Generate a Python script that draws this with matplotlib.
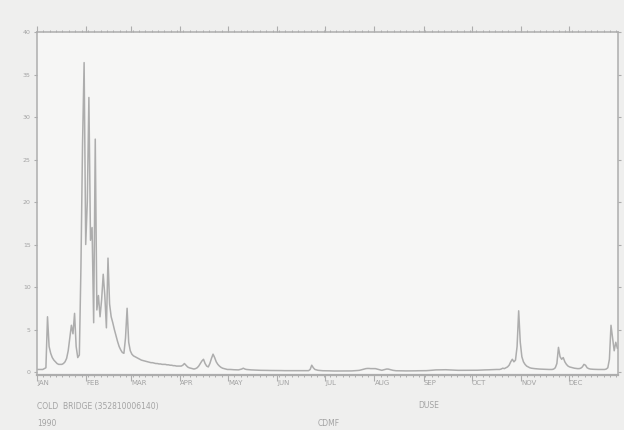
import matplotlib
matplotlib.use("Agg")
import matplotlib.pyplot as plt
import numpy as np

# daily flow, 1990, one list per month
jan = [0.3, 0.3, 0.3, 0.3, 0.4, 0.5, 6.5, 3.0, 2.2, 1.7, 1.4, 1.2, 1.0, 0.9, 0.9, 0.9,
       1.0, 1.2, 1.6, 2.5, 4.0, 5.5, 4.5, 6.9, 3.0, 1.7, 2.0, 12.3, 26.7, 36.4, 15.0]
feb = [20.0, 32.3, 15.5, 17.0, 5.8, 27.4, 7.3, 9.0, 6.5, 8.5, 11.5, 9.0, 5.2, 13.4,
       8.0, 6.5, 5.8, 5.0, 4.3, 3.6, 3.0, 2.6, 2.3, 2.2, 4.0, 7.5, 3.5, 2.5]
mar = [2.1, 1.9, 1.8, 1.7, 1.6, 1.5, 1.4, 1.35, 1.3, 1.25, 1.2, 1.15, 1.1, 1.1, 1.05,
       1.0, 1.0, 0.95, 0.95, 0.9, 0.9, 0.9, 0.85, 0.85, 0.8, 0.8, 0.75, 0.75, 0.7, 0.7, 0.7]
apr = [0.7, 0.8, 1.0, 0.8, 0.6, 0.5, 0.45, 0.4, 0.35, 0.4, 0.5, 0.7, 1.0, 1.3, 1.5,
       1.0, 0.7, 0.6, 1.0, 1.6, 2.1, 1.7, 1.2, 0.9, 0.7, 0.55, 0.45, 0.4, 0.35, 0.3]
may = [0.3, 0.3, 0.28, 0.27, 0.26, 0.25, 0.25, 0.3, 0.35, 0.45, 0.35, 0.3, 0.28, 0.26,
       0.25, 0.24, 0.23, 0.22, 0.22, 0.21, 0.2, 0.2, 0.2, 0.19, 0.19, 0.18, 0.18, 0.18,
       0.17, 0.17, 0.17]
jun = [0.17, 0.17, 0.17, 0.16, 0.16, 0.16, 0.16, 0.16, 0.15, 0.15, 0.15, 0.15, 0.15,
       0.15, 0.15, 0.15, 0.15, 0.15, 0.15, 0.16, 0.3, 0.8, 0.5, 0.3, 0.25, 0.2, 0.18,
       0.16, 0.15, 0.15]
jul = [0.15, 0.14, 0.14, 0.13, 0.13, 0.12, 0.12, 0.12, 0.12, 0.12, 0.12, 0.12, 0.12,
       0.12, 0.12, 0.13, 0.13, 0.14, 0.15, 0.16, 0.18, 0.2, 0.25, 0.3, 0.35, 0.4, 0.42,
       0.42, 0.4, 0.4, 0.4]
aug = [0.4, 0.35, 0.3, 0.25, 0.2, 0.25, 0.3, 0.35, 0.35, 0.3, 0.25, 0.2, 0.17, 0.15,
       0.15, 0.14, 0.14, 0.14, 0.13, 0.13, 0.13, 0.13, 0.13, 0.13, 0.14, 0.14, 0.15,
       0.15, 0.15, 0.15, 0.15]
sep = [0.15, 0.16, 0.17, 0.18, 0.2, 0.22, 0.24, 0.25, 0.25, 0.25, 0.25, 0.26, 0.27,
       0.27, 0.26, 0.25, 0.25, 0.24, 0.23, 0.22, 0.21, 0.2, 0.2, 0.2, 0.2, 0.2, 0.2,
       0.2, 0.2, 0.2]
oct_ = [0.2, 0.2, 0.2, 0.21, 0.22, 0.22, 0.23, 0.24, 0.25, 0.25, 0.26, 0.27, 0.28,
        0.28, 0.29, 0.3, 0.3, 0.3, 0.35, 0.45, 0.4, 0.5, 0.6, 0.8, 1.2, 1.5, 1.2, 1.4,
        3.0, 7.2, 3.5]
nov = [1.8, 1.2, 0.9, 0.7, 0.6, 0.5, 0.45, 0.42, 0.4, 0.38, 0.36, 0.35, 0.34, 0.33,
       0.32, 0.31, 0.3, 0.3, 0.3, 0.3, 0.35, 0.5, 1.0, 2.9, 1.8, 1.5, 1.7, 1.2, 0.9, 0.7]
dec = [0.6, 0.55, 0.5, 0.45, 0.42, 0.4, 0.4, 0.45, 0.6, 0.9, 0.8, 0.5, 0.4, 0.35,
       0.33, 0.32, 0.31, 0.3, 0.3, 0.3, 0.3, 0.3, 0.3, 0.35, 0.5, 1.5, 5.5, 4.0, 2.5,
       3.5, 2.8]

month_labels = ["JAN", "FEB", "MAR", "APR", "MAY", "JUN",
                "JUL", "AUG", "SEP", "OCT", "NOV", "DEC"]
y_ticks = [0, 5, 10, 15, 20, 25, 30, 35, 40]

months = [jan, feb, mar, apr, may, jun, jul, aug, sep, oct_, nov, dec]
flow = np.concatenate(months)
days = np.arange(len(flow))
month_starts = np.cumsum([0] + [len(m) for m in months[:-1]])

grey = "#adadad"
txt = "#a3a3a3"

fig = plt.figure(figsize=(6.24, 4.30), dpi=100, facecolor="#efefee")
ax = fig.add_axes([37 / 624, 1 - 375 / 430, 581 / 624, 343 / 430])
ax.set_facecolor("#f6f6f5")

ax.plot(days + 0.6, flow, color=grey, lw=1.1)

ax.set_xlim(0, 365)
ax.set_ylim(-0.35, 40)

for side in ax.spines.values():
    side.set_color(grey)
    side.set_linewidth(1.1)
ax.spines["bottom"].set_linewidth(1.6)

# y ticks both sides
ax.set_yticks(y_ticks)
ax.set_yticklabels([str(v) for v in y_ticks])
ax.tick_params(axis="y", which="major", direction="out", length=2.5, width=0.8,
               color=grey, labelcolor=txt, labelsize=4.5, pad=2,
               left=True, right=True, labelright=False)

# x ticks: month starts plus dotted minor ticks, top and bottom
ax.set_xticks(month_starts)
ax.set_xticklabels([])
ax.set_xticks(np.arange(0, 366, 4), minor=True)
ax.tick_params(axis="x", which="major", direction="out", length=4, width=0.8,
               color=grey, top=True, bottom=True)
ax.tick_params(axis="x", which="minor", direction="out", length=1.5, width=0.7,
               color=grey, top=True, bottom=True)

for start, lab in zip(month_starts, month_labels):
    ax.text(start, -0.9, lab, transform=ax.transData, ha="left", va="top",
            fontsize=5, color=txt, clip_on=False)

fig.text(37 / 624, 1 - 406 / 430, "COLD  BRIDGE (352810006140)", fontsize=5.5,
         color=txt, va="center", ha="left")
fig.text(37 / 624, 1 - 424 / 430, "1990", fontsize=5.5, color=txt, va="center", ha="left")
fig.text(418 / 624, 1 - 406 / 430, "DUSE", fontsize=5.5, color=txt, va="center", ha="left")
fig.text(318 / 624, 1 - 424 / 430, "CDMF", fontsize=5.5, color=txt, va="center", ha="left")

fig.savefig("out.png", dpi=100, facecolor=fig.get_facecolor())
